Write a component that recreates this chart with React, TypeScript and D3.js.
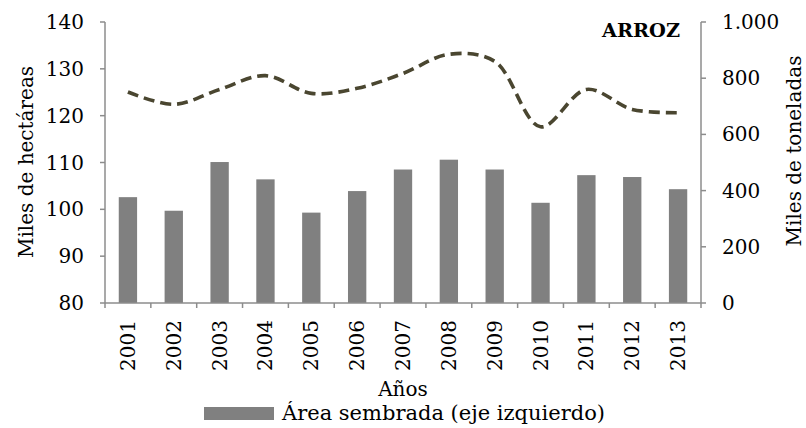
import React from "react";
import * as d3 from "d3";

const years = ["2001","2002","2003","2004","2005","2006","2007","2008","2009","2010","2011","2012","2013"];
const area = [102.6, 99.7, 110.1, 106.4, 99.3, 103.9, 108.5, 110.6, 108.5, 101.4, 107.3, 106.9, 104.3];
const production = [751, 707, 760, 809, 746, 764, 817, 885, 860, 627, 760, 689, 677];
const leftTicks = [80, 90, 100, 110, 120, 130, 140];
const rightTicks = [0, 200, 400, 600, 800, 1000];

const W = 806, H = 428;
const L = 105, R = 701, T = 22, B = 303;
const FONT = "'DejaVu Serif', serif";
const AXIS = "#8c8c8c";
const TXT = "#000";

export default function App() {
  const x = d3.scaleBand<string>().domain(years).range([L, R]).paddingInner(0.6).paddingOuter(0.3);
  const band = d3.scaleBand<string>().domain(years).range([L, R]);
  const yL = d3.scaleLinear().domain([80, 140]).range([B, T]);
  const yR = d3.scaleLinear().domain([0, 1000]).range([B, T]);
  const fmt = (v: number) => d3.format(",")(v).replace(/,/g, ".");
  const line = d3.line<number>()
    .x((_, i) => (band(years[i]) as number) + band.bandwidth() / 2)
    .y((d) => yR(d))
    .curve(d3.curveCatmullRom.alpha(0.5));

  return (
    <svg width={W} height={H} style={{ position: "absolute", left: 0, top: 0 }} fontFamily={FONT}>
      <rect width={W} height={H} fill="#fff" />
      {years.map((yr, i) => (
        <rect key={yr} x={x(yr)} y={yL(area[i])} width={x.bandwidth()} height={B - yL(area[i])} fill="#808080" />
      ))}
      <path d={line(production) || ""} fill="none" stroke="#4a4630" strokeWidth={3.6} strokeDasharray="11,6" />
      {/* left axis */}
      <line x1={L} x2={L} y1={T} y2={B} stroke={AXIS} strokeWidth={1.5} />
      {leftTicks.map((t) => (
        <g key={t}>
          <line x1={L - 5} x2={L} y1={yL(t)} y2={yL(t)} stroke={AXIS} strokeWidth={1.5} />
          <text x={84} y={yL(t)} textAnchor="end" dominantBaseline="central" fontSize={20} fill={TXT}>{t}</text>
        </g>
      ))}
      {/* right axis */}
      <line x1={R} x2={R} y1={T} y2={B} stroke={AXIS} strokeWidth={1.5} />
      {rightTicks.map((t) => (
        <g key={t}>
          <line x1={R} x2={R + 5} y1={yR(t)} y2={yR(t)} stroke={AXIS} strokeWidth={1.5} />
          <text x={722} y={yR(t)} textAnchor="start" dominantBaseline="central" fontSize={20} fill={TXT}>{fmt(t)}</text>
        </g>
      ))}
      {/* x axis */}
      <line x1={L} x2={R} y1={B} y2={B} stroke={AXIS} strokeWidth={1.5} />
      {years.concat(["end"]).map((yr, i) => {
        const xx = L + i * band.bandwidth();
        return <line key={"t" + i} x1={xx} x2={xx} y1={B} y2={B + 5} stroke={AXIS} strokeWidth={1.5} />;
      })}
      {years.map((yr) => {
        const cx = (band(yr) as number) + band.bandwidth() / 2;
        return (
          <text key={"l" + yr} transform={`translate(${cx},320) rotate(-90)`} textAnchor="end" dominantBaseline="central" fontSize={20} fill={TXT}>{yr}</text>
        );
      })}
      <text x={403} y={396} textAnchor="middle" fontSize={20} fill={TXT}>Años</text>
      <text transform="translate(33,162) rotate(-90)" textAnchor="middle" fontSize={20} fill={TXT}>Miles de hectáreas</text>
      <text transform="translate(801,151) rotate(-90)" textAnchor="middle" fontSize={20} fill={TXT}>Miles de toneladas</text>
      <text x={680} y={37} textAnchor="end" fontSize={19} fontWeight="bold" fill="#000" textLength={78} lengthAdjust="spacingAndGlyphs">ARROZ</text>
      <rect x={204} y={407} width={70} height={13} fill="#808080" />
      <text x={282} y={420} fontSize={21} fill={TXT}>Área sembrada (eje izquierdo)</text>
    </svg>
  );
}
